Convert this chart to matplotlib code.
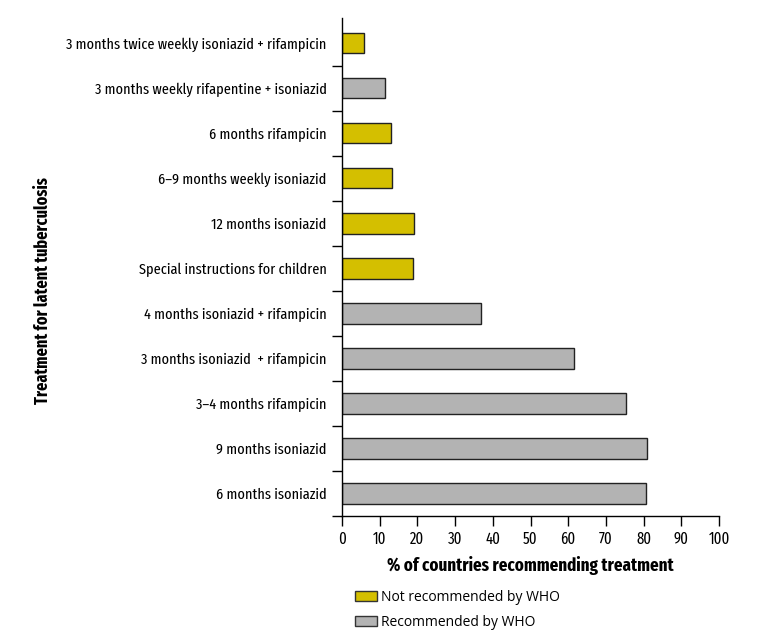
import matplotlib
matplotlib.use('Agg')
import matplotlib.pyplot as plt
from matplotlib.patches import Patch

plt.rcParams['font.family'] = ['Fira Sans Extra Condensed', 'Fira Sans Condensed', 'Liberation Sans', 'DejaVu Sans']

# categories, top to bottom as in the reference
treatments = ['3 months twice weekly isoniazid + rifampicin',
              '3 months weekly rifapentine + isoniazid',
              '6 months rifampicin',
              '6–9 months weekly isoniazid',
              '12 months isoniazid',
              'Special instructions for children',
              '4 months isoniazid + rifampicin',
              '3 months isoniazid  + rifampicin',
              '3–4 months rifampicin',
              '9 months isoniazid',
              '6 months isoniazid']
pct = [5.7, 11.4, 13.1, 13.3, 19.0, 18.7, 36.8, 61.6, 75.2, 80.9, 80.7]
who_recommended = [False, True, False, False, False, False, True, True, True, True, True]

yellow = '#D4BF00'
grey = '#B3B3B3'
colors = [grey if r else yellow for r in who_recommended]

fig = plt.figure(figsize=(7.71, 6.39), dpi=100)
ax = fig.add_axes([0.4436, 0.1925, 0.4890, 0.7790])

ypos = list(range(len(treatments)))[::-1]
ax.barh(ypos, pct, height=0.46, color=colors, edgecolor='#222222', linewidth=1.0)

ax.set_xlim(0, 100)
ax.set_ylim(-0.5, 10.55)
ax.set_xticks(range(0, 101, 10))
ax.tick_params(axis='x', direction='out', length=7, width=1, labelsize=11.5, pad=4)

ax.set_yticks(ypos)
ax.set_yticklabels(treatments, fontsize=11.2)
ax.tick_params(axis='y', length=0, pad=11)
ax.set_yticks([i + 0.5 for i in range(-1, 10)], minor=True)
ax.tick_params(axis='y', which='minor', direction='out', length=7, width=1)

for s in ['top', 'right']:
    ax.spines[s].set_visible(False)
for s in ['left', 'bottom']:
    ax.spines[s].set_linewidth(1)

ax.set_xlabel('% of countries recommending treatment', fontsize=13.2, fontweight='bold', labelpad=6)
ax.set_ylabel('Treatment for latent tuberculosis', fontsize=12.7, fontweight='bold')
ax.yaxis.set_label_coords(-0.769, 0.452)

handles = [Patch(facecolor=yellow, edgecolor='#333333', label='Not recommended by WHO'),
           Patch(facecolor=grey, edgecolor='#333333', label='Recommended by WHO')]
fig.legend(handles=handles, loc='upper left', bbox_to_anchor=(0.452, 0.088), frameon=False,
           prop={'family': ['Open Sans', 'Liberation Sans', 'DejaVu Sans'], 'size': 10},
           handlelength=1.55, handleheight=0.7, handletextpad=0.3,
           labelspacing=0.75, borderpad=0)

fig.savefig('out.png', dpi=100)
